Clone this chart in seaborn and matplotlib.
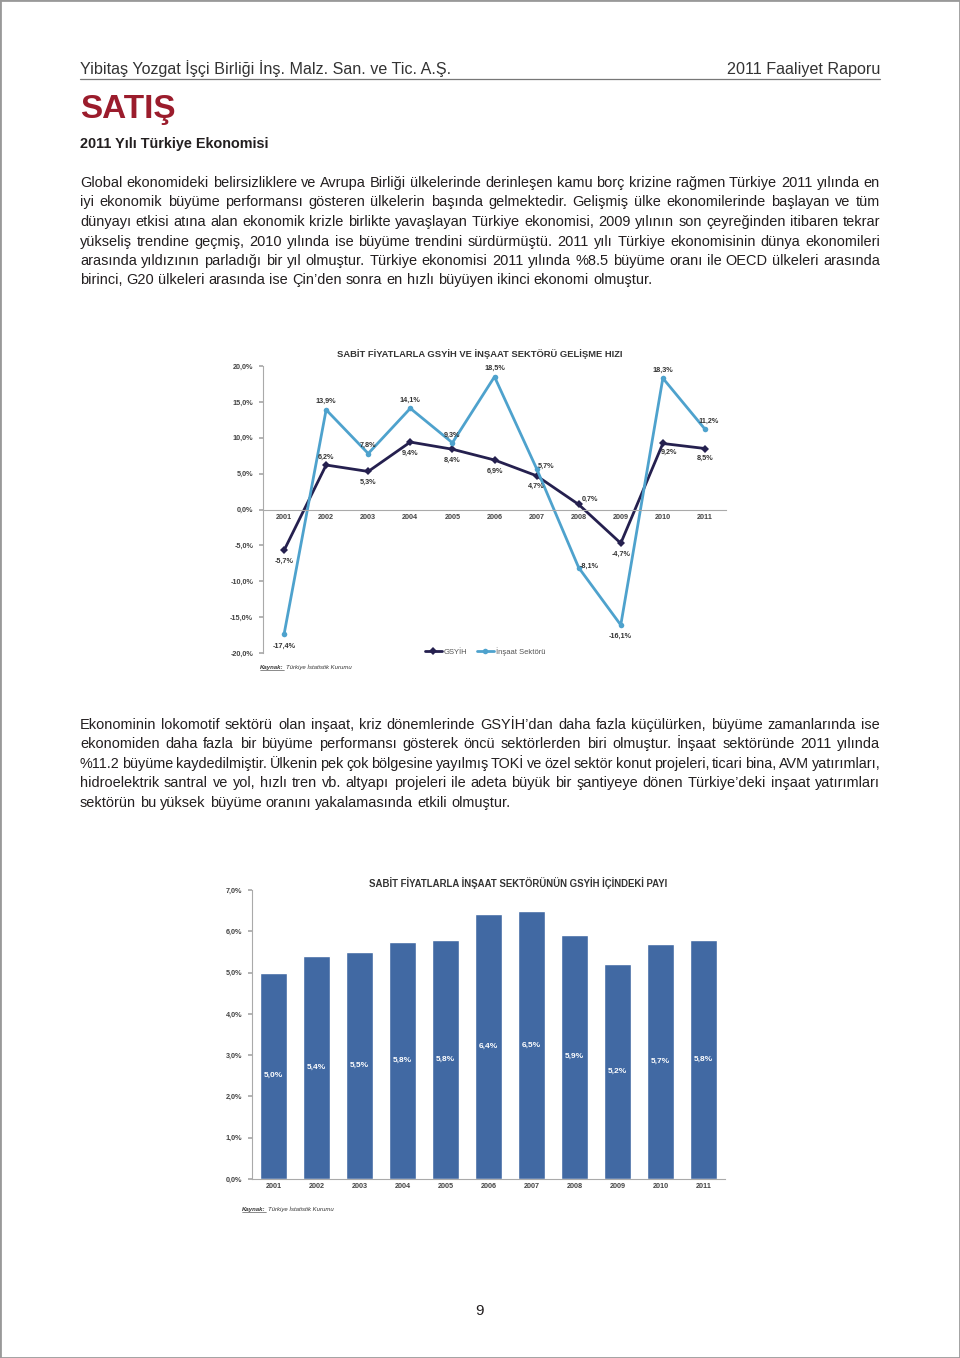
import numpy as np
import pandas as pd
import matplotlib
matplotlib.use('Agg')
import matplotlib.pyplot as plt
from matplotlib.lines import Line2D
from matplotlib.patches import Rectangle
from matplotlib.ticker import FuncFormatter, MultipleLocator
import seaborn as sns

# Veriler
yillar = ['2001', '2002', '2003', '2004', '2005', '2006', '2007', '2008', '2009', '2010', '2011']
gsyih = [-5.7, 6.2, 5.3, 9.4, 8.4, 6.9, 4.7, 0.7, -4.7, 9.2, 8.5]
insaat = [-17.4, 13.9, 7.8, 14.1, 9.3, 18.5, 5.7, -8.1, -16.1, 18.3, 11.2]
insaat_payi = [5.0, 5.4, 5.5, 5.75, 5.8, 6.43, 6.48, 5.92, 5.21, 5.7, 5.8]
pay_etiket = ['5,0%', '5,4%', '5,5%', '5,8%', '5,8%', '6,4%', '6,5%', '5,9%', '5,2%', '5,7%', '5,8%']

baslik_sol = 'Yibitaş Yozgat İşçi Birliği İnş. Malz. San. ve Tic. A.Ş.'
baslik_sag = '2011 Faaliyet Raporu'
bolum = 'SATIŞ'
alt_baslik = '2011 Yılı Türkiye Ekonomisi'
grafik1_baslik = 'SABİT FİYATLARLA GSYİH VE İNŞAAT SEKTÖRÜ GELİŞME HIZI'
grafik2_baslik = 'SABİT FİYATLARLA İNŞAAT SEKTÖRÜNÜN GSYİH İÇİNDEKİ PAYI'

paragraf1 = [
    'Global ekonomideki belirsizliklere ve Avrupa Birliği ülkelerinde derinleşen kamu borç krizine rağmen Türkiye 2011 yılında en',
    'iyi ekonomik büyüme performansı gösteren ülkelerin başında gelmektedir. Gelişmiş ülke ekonomilerinde başlayan ve tüm',
    'dünyayı etkisi atına alan ekonomik krizle birlikte yavaşlayan Türkiye ekonomisi, 2009 yılının son çeyreğinden itibaren tekrar',
    'yükseliş trendine geçmiş, 2010 yılında ise büyüme trendini sürdürmüştü. 2011 yılı Türkiye ekonomisinin dünya ekonomileri',
    'arasında yıldızının parladığı bir yıl olmuştur. Türkiye ekonomisi 2011 yılında %8.5 büyüme oranı ile OECD ülkeleri arasında',
    'birinci, G20 ülkeleri arasında ise Çin’den sonra en hızlı büyüyen ikinci ekonomi olmuştur.',
]
paragraf2 = [
    'Ekonominin lokomotif sektörü olan inşaat, kriz dönemlerinde GSYİH’dan daha fazla küçülürken, büyüme zamanlarında ise',
    'ekonomiden daha fazla bir büyüme performansı gösterek öncü sektörlerden biri olmuştur. İnşaat sektöründe 2011 yılında',
    '%11.2 büyüme kaydedilmiştir. Ülkenin pek çok bölgesine yayılmış TOKİ ve özel sektör konut projeleri, ticari bina, AVM yatırımları,',
    'hidroelektrik santral ve yol, hızlı tren vb. altyapı projeleri ile adeta büyük bir şantiyeye dönen Türkiye’deki inşaat yatırımları',
    'sektörün bu yüksek büyüme oranını yakalamasında etkili olmuştur.',
]

sns.set_theme(style='white')
plt.rcParams['font.family'] = ['Liberation Sans', 'DejaVu Sans']

W, H = 960, 1358
fig = plt.figure(figsize=(W / 100, H / 100), dpi=100)
renderer = fig.canvas.get_renderer()

LACIVERT = '#25204f'
ACIK_MAVI = '#4ea2cd'
BAR_RENK = '#4169a3'
YAZI = '#231f20'
GRI = '#444444'


def fy(y):
    return 1 - y / H


def genislik(t):
    return t.get_window_extent(renderer).width


def sigdir(t, hedef):
    # yazi boyutunu hedef genislige gore ayarla
    t.set_fontsize(t.get_fontsize() * hedef / genislik(t))


def taban(t, Y):
    # kelimelerin taban cizgisi ayni piksel satirina otursun (agg yuvarlamasi)
    _, h, d = renderer.get_text_width_height_descent(t.get_text(), t.get_fontproperties(), ismath=False)
    yb = Y + np.floor(h) - np.floor(h - d) - d
    t.set_y(1 - yb / H)


def iki_yana(satirlar, x0, x1, y0, lh, boyut):
    a = fig.text(0, 0, 'a a', fontsize=boyut)
    b = fig.text(0, 0, 'aa', fontsize=boyut)
    bosluk = genislik(a) - genislik(b)
    a.remove()
    b.remove()
    for i, satir in enumerate(satirlar):
        kelimeler = satir.split()
        Y = round(y0 + i * lh)
        tl = [fig.text(0, fy(Y), k, fontsize=boyut, color=YAZI, va='baseline') for k in kelimeler]
        wl = [genislik(t) for t in tl]
        son = i == len(satirlar) - 1
        if son:
            ara = bosluk
        else:
            ara = (x1 - x0 - sum(wl)) / (len(kelimeler) - 1)
            if ara < bosluk * 0.6:
                oran = (x1 - x0 - bosluk * 0.6 * (len(kelimeler) - 1)) / sum(wl)
                for t in tl:
                    t.set_fontsize(boyut * oran)
                wl = [w * oran for w in wl]
                ara = (x1 - x0 - sum(wl)) / (len(kelimeler) - 1)
        x = x0
        for t, w in zip(tl, wl):
            t.set_x(x / W)
            taban(t, Y)
            x += w + ara


# Sayfa ust kismi
t = fig.text(80 / W, fy(74), baslik_sol, fontsize=11, color='#333333', va='baseline')
sigdir(t, 367)
t = fig.text(880 / W, fy(74), baslik_sag, fontsize=11, color='#333333', va='baseline', ha='right')
sigdir(t, 153)
fig.add_artist(Line2D([80 / W, 880 / W], [fy(79), fy(79)], color='#777777', lw=0.9))
fig.text(80 / W, fy(118), bolum, fontsize=24, fontweight='bold', color='#9b1c2c', va='baseline')
t = fig.text(80 / W, fy(148), alt_baslik, fontsize=10, fontweight='bold', color=YAZI, va='baseline')
sigdir(t, 189)

# govde yazisi boyutu: ilk paragrafin son satirina gore
olcu = fig.text(0, 0, paragraf1[-1], fontsize=10)
govde = 10 * 571 / genislik(olcu)
olcu.remove()

iki_yana(paragraf1, 80, 880, 187, 19.5, govde)
iki_yana(paragraf2, 80, 880, 729, 19.4, govde)

yuzde = FuncFormatter(lambda v, _: f'{v:.1f}'.replace('.', ',') + '%')

# Grafik 1: GSYIH ve insaat sektoru gelisme hizi
ax1 = fig.add_axes([263 / W, fy(653), 463 / W, 287 / H])
df1 = pd.DataFrame({
    'Yıl': yillar * 2,
    'Büyüme': gsyih + insaat,
    'Seri': ['GSYİH'] * len(yillar) + ['İnşaat Sektörü'] * len(yillar),
})
sns.lineplot(data=df1, x='Yıl', y='Büyüme', hue='Seri', style='Seri',
             markers=['D', 'o'], dashes=False, palette=[LACIVERT, ACIK_MAVI],
             lw=2, markersize=4, markeredgewidth=0, ax=ax1)
ax1.set_xlim(-0.5, 10.5)
ax1.set_ylim(-20, 20)
ax1.yaxis.set_major_locator(MultipleLocator(5))
ax1.yaxis.set_major_formatter(yuzde)
ax1.set_xlabel('')
ax1.set_ylabel('')
for s in ['top', 'right']:
    ax1.spines[s].set_visible(False)
ax1.spines['bottom'].set_position(('data', 0))
for s in ['left', 'bottom']:
    ax1.spines[s].set_color('#aaaaaa')
    ax1.spines[s].set_linewidth(0.8)
ax1.set_xticks(np.arange(-0.5, 11, 1), minor=True)
ax1.tick_params(axis='x', which='major', length=0, pad=3, labelsize=5.2, labelcolor=GRI)
ax1.tick_params(axis='x', which='minor', length=3, color='#aaaaaa', direction='inout')
ax1.tick_params(axis='y', length=3, color='#aaaaaa', left=True, labelsize=5.2, labelcolor=GRI, pad=4)
for lab in ax1.get_xticklabels() + ax1.get_yticklabels():
    lab.set_fontweight('bold')

# etiket konumlari (piksel kaydirma)
g_kay = [(0, -11), (0, 8), (0, -11), (0, -11), (0, -11), (0, -11), (0, -11), (11, 5), (0, -11), (6, -9), (0, -10)]
i_kay = [(0, -12), (0, 8), (0, 8), (0, 8), (0, 7), (0, 8), (9, 2), (11, 1), (0, -11), (0, 8), (4, 8)]
for yil, v, k in zip(yillar, gsyih, g_kay):
    ax1.annotate(f'{v:.1f}'.replace('.', ',') + '%', (yil, v), xytext=k, textcoords='offset pixels',
                 ha='center', va='center', fontsize=5.2, color='#333333', fontweight='bold')
for yil, v, k in zip(yillar, insaat, i_kay):
    ax1.annotate(f'{v:.1f}'.replace('.', ',') + '%', (yil, v), xytext=k, textcoords='offset pixels',
                 ha='center', va='center', fontsize=5.2, color='#333333', fontweight='bold')

h, l = ax1.get_legend_handles_labels()
ax1.legend(h, l, loc='center', bbox_to_anchor=(0.48, 0.005), ncol=2, frameon=False,
           fontsize=5.5, handlelength=2.2, columnspacing=1.2, handletextpad=0.3,
           labelcolor='#555555')

t = fig.text(480 / W, fy(354), grafik1_baslik, fontsize=6, fontweight='bold', color='#333333',
             ha='center', va='center')
sigdir(t, 286)


def kaynak(x, y):
    a = fig.text(x / W, fy(y), 'Kaynak:', fontsize=4.3, fontstyle='italic', fontweight='bold',
                 color='#333333', va='baseline')
    w = genislik(a)
    fig.add_artist(Line2D([x / W, (x + w) / W], [fy(y + 1.2)] * 2, color='#333333', lw=0.4))
    fig.text((x + w + 2) / W, fy(y), 'Türkiye İstatistik Kurumu', fontsize=4.3, fontstyle='italic',
             color='#333333', va='baseline')


kaynak(260, 669)

# Grafik 2: insaat sektorunun GSYIH icindeki payi
ax2 = fig.add_axes([252 / W, fy(1179), 473 / W, 289 / H])
sns.barplot(x=yillar, y=insaat_payi, color=BAR_RENK, saturation=1, width=0.65, ax=ax2)
ax2.set_xlim(-0.5, 10.5)
ax2.set_ylim(0, 7)
ax2.yaxis.set_major_locator(MultipleLocator(1))
ax2.yaxis.set_major_formatter(yuzde)
for s in ['top', 'right']:
    ax2.spines[s].set_visible(False)
for s in ['left', 'bottom']:
    ax2.spines[s].set_color('#aaaaaa')
    ax2.spines[s].set_linewidth(0.8)
ax2.tick_params(axis='x', length=0, pad=3, labelsize=5.2, labelcolor=GRI)
ax2.tick_params(axis='y', length=3, color='#aaaaaa', left=True, labelsize=5.2, labelcolor=GRI, pad=4)
for lab in ax2.get_xticklabels() + ax2.get_yticklabels():
    lab.set_fontweight('bold')
ax2.bar_label(ax2.containers[0], labels=pay_etiket, label_type='center', color='white',
              fontsize=6, fontweight='bold')

t = fig.text(518 / W, fy(883), grafik2_baslik, fontsize=6, fontweight='bold', color='#333333',
             ha='center', va='center')
sigdir(t, 302)
kaynak(242, 1211)

# sayfa numarasi ve cerceve
fig.text(480 / W, fy(1311), '9', fontsize=11, color=YAZI, ha='center', va='center')
fig.add_artist(Rectangle((0, 0), 1, 1, transform=fig.transFigure, fill=False,
                         edgecolor='#999999', lw=2))

fig.savefig('out.png', dpi=100)
